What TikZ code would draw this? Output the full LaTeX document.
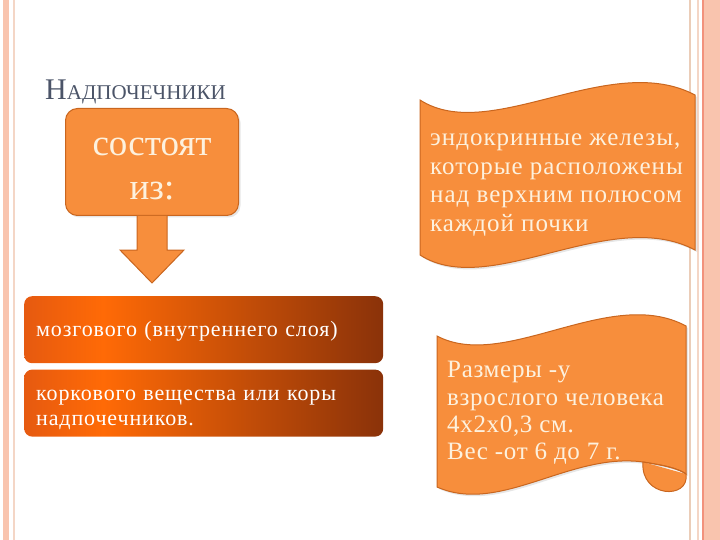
\documentclass[tikz,border=0pt]{standalone}
\usepackage{fontspec}
\setmainfont{Liberation Serif}
\newfontfamily\anchafont[LetterSpace=4]{Liberation Serif}
\newfontfamily\mediafont[LetterSpace=2.7]{Liberation Serif}
\usetikzlibrary{positioning,calc,shadows}

\definecolor{naranja}{HTML}{F78E3C}
\definecolor{bordenar}{HTML}{C9661F}
\definecolor{crema}{HTML}{FDF1DE}
\definecolor{titulo}{HTML}{4B5468}
\definecolor{rosa}{HTML}{F9C4AE}
\definecolor{rosaosc}{HTML}{F2927C}
\definecolor{lineaA}{HTML}{EBCDB8}
\definecolor{lineaB}{HTML}{F4D6C6}
\definecolor{barraA}{HTML}{E65A10}
\definecolor{barraB}{HTML}{FF6A06}
\definecolor{barraC}{HTML}{8A3209}

\pgfdeclarehorizontalshading{barra}{100bp}{color(0bp)=(barraA); color(25bp)=(barraA); color(36bp)=(barraB); color(75bp)=(barraC); color(100bp)=(barraC)}

\tikzset{
  caja/.style={fill=naranja, draw=bordenar, line width=1pt, rounded corners=12pt,
    inner sep=0pt,
    drop shadow={opacity=0.2, shadow xshift=2pt, shadow yshift=-2pt}},
  textocaja/.style={text=crema, align=center, inner sep=0pt,
    font=\fontsize{37}{44}\selectfont},
  barra/.style={shading=barra, rounded corners=8pt,
    minimum width=359pt, minimum height=67pt, inner sep=0pt},
  textobarra/.style={text=white, align=left, text width=335pt, inner sep=0pt,
    font=\anchafont\fontsize{22}{25}\selectfont},
  cinta/.style={fill=naranja, draw=bordenar, line width=1pt,
    drop shadow={opacity=0.2, shadow xshift=2pt, shadow yshift=-2pt}},
  textocinta/.style={text=crema, align=left, inner sep=0pt},
}

\begin{document}
\begin{tikzpicture}[x=1pt, y=-1pt]
	\useasboundingbox (0,0) rectangle (720,540);
	
	% Bordes de la diapositiva
	\fill[rosa] (3,0) rectangle (9,540);
	\fill[lineaB] (13,0) rectangle (14.5,540);
	\fill[lineaA] (689,0) rectangle (691,540);
	\fill[lineaB] (697,0) rectangle (699,540);
	\fill[rosa] (702,0) rectangle (720,540);
	\fill[rosaosc] (702,0) rectangle (703.5,540);
	
	% Titulo
	\node[anchor=base west, text=titulo, inner sep=0pt] (titulo) at (45,100)
		{\fontsize{30}{30}\selectfont Н\fontsize{21}{21}\selectfont АДПОЧЕЧНИКИ};
	
	% Caja, flecha y barras
	\node[caja, anchor=north west, minimum width=173pt, minimum height=107pt] (consta) at (65,108) {};
	\node[textocaja] (constatexto) at ($(consta.center)+(0,7)$) {состоят\\из:};
	\node[barra, anchor=north west] (medula) at (24,296) {};
	\node[barra, below=6pt of medula] (corteza) {};
	\node[textobarra] (medulatexto) at ($(medula.center)+(0,2)$) {мозгового (внутреннего слоя)};
	\node[textobarra] (cortezatexto) at ($(corteza.center)+(0,7)$) {коркового вещества или коры\\надпочечников.};
	\filldraw[fill=naranja, draw=bordenar, line width=1pt]
		($(consta.south)+(-15,0)$) -- ($(consta.south)+(-15,34)$) -- ($(consta.south)+(-32,34)$)
		-- ($(medula.north -| consta.south)+(0,-13)$)
		-- ($(consta.south)+(32,34)$) -- ($(consta.south)+(15,34)$) -- ($(consta.south)+(15,0)$);
	
	% Cintas de la derecha
	\filldraw[cinta] (420,100) .. controls (490,145) and (610,50) .. (695,95) -- (695,250)
		.. controls (610,205) and (490,300) .. (420,255) -- cycle;
	\node[textocinta, anchor=west, font=\anchafont\fontsize{25}{28.7}\selectfont] (glandulas) at (430,185)
		{эндокринные железы,\\которые расположены\\над верхним полюсом\\каждой почки};
	
	\filldraw[cinta] (437,336) .. controls (505,372) and (610,285) .. (686,326) -- (686,474)
		.. controls (678,468) and (662,465) .. (643,462)
		.. controls (570,452) and (500,515) .. (437,487) -- cycle;
	\filldraw[fill=naranja, draw=bordenar, line width=1pt]
		(643,462) .. controls (640,498) and (690,500) .. (686,474);
	\draw[bordenar, line width=1pt] (643,462) .. controls (662,465) and (678,468) .. (686,474);
	\node[textocinta, anchor=west, font=\mediafont\fontsize{25}{27.3}\selectfont] (medidas) at (447,413)
		{Размеры -у\\взрослого человека\\4х2х0,3 см.\\Вес -от 6 до 7 г.};
	
\end{tikzpicture}
\end{document}
